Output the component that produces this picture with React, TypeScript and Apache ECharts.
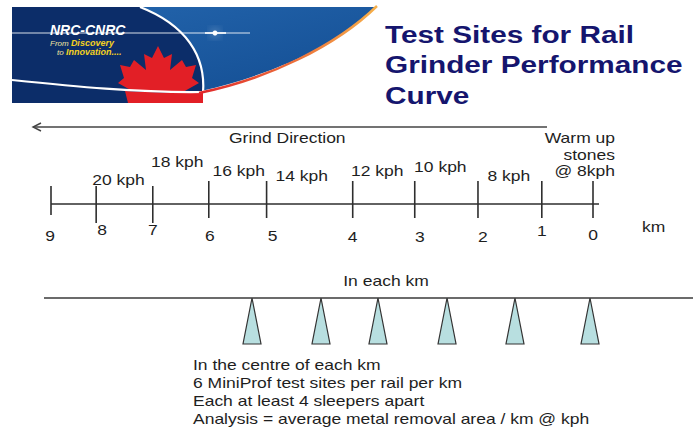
import React, { useEffect, useRef } from "react";
import * as echarts from "echarts";

// ---------------- data ----------------
const kmLabels = ["9", "8", "7", "6", "5", "4", "3", "2", "1", "0"];
// where each km marker sits along the drawn (schematic) line, in km units
const kmDrawnAt = [9, 8.25, 7.31, 6.38, 5.42, 3.99, 2.96, 1.91, 0.85, 0];
const speedLabels = ["20 kph", "18 kph", "16 kph", "14 kph", "12 kph", "10 kph", "8 kph"];
const warmUpLines = ["Warm up", "stones", "@ 8kph"];
// six MiniProf test sites, as a fraction of one km
const siteFractions = [0.3205, 0.4268, 0.5146, 0.621, 0.7257, 0.8413];
const titleLines = ["Test Sites for Rail", "Grinder Performance", "Curve"];
const noteLines = [
  "In the centre of each km",
  "6 MiniProf test sites per rail per km",
  "Each at least 4 sleepers apart",
  "Analysis = average metal removal area / km @ kph",
];
const unitLabel = "km";
const directionLabel = "Grind Direction";
const sectionLabel = "In each km";

// ---------------- layout / style ----------------
const FONT = '"Liberation Sans", Arial, sans-serif';
const SX = 1.25;
const INK = "#1e1e1e";
const LINE = "#2e2e2e";
const RAIL_Y = 204;
const TICK_TOP = [186, 186, 186, 181, 181, 181, 181, 181, 181, 181];
const TICK_BOTTOM = [215, 223, 223, 218, 218, 218, 218, 218, 218, 218];
const KM_LABEL_DX = [-1, 6, 0, 1, 6, 0, 5, 5, 0, 0];
const KM_LABEL_Y = [236, 230, 230, 236, 236, 237, 237, 237, 231, 235];
const SPEED_DX = [-6, -3.5, 1, -8, -6.5, -6, -1];
const SPEED_Y = [180, 162, 171, 176, 171, 167, 176];
const WARM_Y = [138, 155, 171];
const TRACK_Y = 298;
const SITE_H = 46;
const SITE_HALF = 9;

const NAVY = "#0c2d69";
const RED = "#e21f26";

echarts.graphic.registerShape(
  "nrcSky",
  echarts.graphic.extendPath("M12,7 L376,7 C338,45 272,75 201,91 L12,93 Z", {})
);
echarts.graphic.registerShape(
  "nrcNavy",
  echarts.graphic.extendPath("M12,7 L140,7 C186,25 206,56 203,93 L12,95 Z", {})
);
echarts.graphic.registerShape(
  "nrcBand",
  echarts.graphic.extendPath("M12,80 C70,86 140,93 203,92 L203,103 C140,103 70,103 12,103 Z", {})
);
echarts.graphic.registerShape(
  "nrcRed",
  echarts.graphic.extendPath("M125,91 C160,93 185,93 203,92 L203,103 L128,103 Z", {})
);

const leafPoints = [
  [158, 46], [164, 58], [172, 54], [170, 70], [182, 60], [186, 67], [196, 65],
  [192, 78], [199, 83], [183, 92], [185, 99], [162, 96], [161, 103], [155, 103],
  [154, 96], [132, 99], [134, 92], [118, 83], [124, 78], [120, 65], [130, 67],
  [134, 60], [146, 70], [144, 54], [152, 58],
];

function bannerGraphics(): any[] {
  return [
    {
      type: "nrcSky",
      x: 0,
      y: 0,
      style: {
        fill: {
          type: "linear", x: 0, y: 0, x2: 1, y2: 1,
          colorStops: [
            { offset: 0, color: "#2466ae" },
            { offset: 1, color: "#134d92" },
          ],
        },
      },
    },
    { type: "nrcNavy", x: 0, y: 0, style: { fill: NAVY } },
    { type: "polygon", shape: { points: leafPoints }, style: { fill: RED } },
    { type: "nrcBand", x: 0, y: 0, style: { fill: NAVY } },
    { type: "nrcRed", x: 0, y: 0, style: { fill: RED } },
    {
      type: "bezierCurve",
      shape: { x1: 12, y1: 80, cpx1: 70, cpy1: 86, cpx2: 140, cpy2: 93, x2: 203, y2: 92 },
      style: { stroke: "#ffffff", lineWidth: 2.2, fill: "none" },
    },
    {
      type: "bezierCurve",
      shape: { x1: 140, y1: 7, cpx1: 186, cpy1: 25, cpx2: 206, cpy2: 56, x2: 203, y2: 93 },
      style: { stroke: "#ffffff", lineWidth: 2.2, fill: "none" },
    },
    {
      type: "bezierCurve",
      shape: { x1: 199, y1: 93, cpx1: 268, cpy1: 79, cpx2: 336, cpy2: 46, x2: 377, y2: 6 },
      style: {
        fill: "none",
        lineWidth: 2.5,
        stroke: {
          type: "linear", x: 0, y: 0, x2: 1, y2: 0,
          colorStops: [
            { offset: 0, color: "#e0262a" },
            { offset: 1, color: "#f6b04a" },
          ],
        },
      },
    },
    {
      type: "line",
      shape: { x1: 12, y1: 33, x2: 250, y2: 33 },
      style: { stroke: "rgba(255,255,255,0.85)", lineWidth: 1 },
    },
    {
      type: "circle",
      shape: { cx: 215, cy: 33, r: 2.5 },
      style: { fill: "#ffffff", shadowBlur: 10, shadowColor: "#ffffff" },
    },
    {
      type: "line",
      shape: { x1: 205, y1: 33, x2: 226, y2: 33 },
      style: { stroke: "#ffffff", lineWidth: 1.6 },
    },
    {
      type: "text",
      x: 50,
      y: 30,
      style: {
        text: "NRC-CNRC",
        fill: "#ffffff",
        font: 'italic bold 14px ' + FONT,
        align: "left",
        verticalAlign: "middle",
      },
    },
    {
      type: "text",
      x: 50,
      y: 43,
      style: {
        text: "{a|From }{b|Discovery}",
        align: "left",
        verticalAlign: "middle",
        rich: {
          a: { fill: "#f1e6a0", font: 'italic 8px ' + FONT },
          b: { fill: "#f5d21e", font: 'italic bold 9px ' + FONT },
        },
      },
    },
    {
      type: "text",
      x: 57,
      y: 52,
      style: {
        text: "{a|to }{b|Innovation....}",
        align: "left",
        verticalAlign: "middle",
        rich: {
          a: { fill: "#f1e6a0", font: 'italic 8px ' + FONT },
          b: { fill: "#f5d21e", font: 'italic bold 9px ' + FONT },
        },
      },
    },
  ];
}

function textEl(text: string, x: number, y: number, opts: any = {}) {
  return {
    type: "text",
    x,
    y,
    scaleX: opts.scaleX ?? SX,
    style: {
      text,
      fill: opts.fill ?? INK,
      font: opts.font ?? "14px " + FONT,
      align: opts.align ?? "left",
      verticalAlign: "middle",
    },
  };
}

function buildOption(): any {
  const graphics: any[] = [
    ...bannerGraphics(),
    ...titleLines.map((t, i) =>
      textEl(t, 385, 35 + i * 30.5, { fill: "#15156e", font: "bold 24px " + FONT, scaleX: 1.24 })
    ),
    {
      type: "line",
      shape: { x1: 33, y1: 127, x2: 547, y2: 127 },
      style: { stroke: "#444", lineWidth: 1.4 },
    },
    {
      type: "polyline",
      shape: { points: [[41, 123], [33, 127], [41, 131]] },
      style: { stroke: "#444", lineWidth: 1.4, fill: "none" },
    },
    textEl(directionLabel, 229, 138),
    textEl(unitLabel, 642, 227),
    textEl(sectionLabel, 386, 281, { align: "center" }),
    ...noteLines.map((t, i) => textEl(t, 193, 365 + i * 17.9)),
  ];

  return {
    animation: false,
    backgroundColor: "#ffffff",
    grid: [
      { left: 51, right: 100, top: 0, bottom: 0 },
      { left: 44, right: 0, top: 0, bottom: 0 },
    ],
    xAxis: [
      { gridIndex: 0, type: "value", min: 0, max: 9, inverse: true, show: false },
      { gridIndex: 1, type: "value", min: 0, max: 1, show: false },
    ],
    yAxis: [
      { gridIndex: 0, type: "value", min: 0, max: 428, inverse: true, show: false },
      { gridIndex: 1, type: "value", min: 0, max: 428, inverse: true, show: false },
    ],
    series: [
      {
        type: "custom",
        name: "rail",
        xAxisIndex: 0,
        yAxisIndex: 0,
        data: [[kmDrawnAt[0], kmDrawnAt[kmDrawnAt.length - 1]]],
        renderItem: (_p: any, api: any) => {
          const a = api.coord([api.value(0), 0])[0];
          const b = api.coord([api.value(1), 0])[0];
          return {
            type: "line",
            shape: { x1: a, y1: RAIL_Y, x2: b + 6, y2: RAIL_Y },
            style: { stroke: LINE, lineWidth: 1.6 },
          };
        },
      },
      {
        type: "custom",
        name: "km markers",
        xAxisIndex: 0,
        yAxisIndex: 0,
        data: kmDrawnAt.map((v) => [v, 0]),
        renderItem: (p: any, api: any) => {
          const i = p.dataIndex;
          const x = api.coord([api.value(0), 0])[0];
          return {
            type: "group",
            children: [
              {
                type: "line",
                shape: { x1: x, y1: TICK_TOP[i], x2: x, y2: TICK_BOTTOM[i] },
                style: { stroke: LINE, lineWidth: 1.6 },
              },
              textEl(kmLabels[i], x + KM_LABEL_DX[i], KM_LABEL_Y[i], { align: "center" }),
            ],
          };
        },
      },
      {
        type: "custom",
        name: "speeds",
        xAxisIndex: 0,
        yAxisIndex: 0,
        data: speedLabels.map((_, i) => [kmDrawnAt[i + 1], kmDrawnAt[i + 2]]),
        renderItem: (p: any, api: any) => {
          const i = p.dataIndex;
          const a = api.coord([api.value(0), 0])[0];
          const b = api.coord([api.value(1), 0])[0];
          return textEl(speedLabels[i], (a + b) / 2 + SPEED_DX[i], SPEED_Y[i], { align: "center" });
        },
      },
      {
        type: "custom",
        name: "warm up",
        xAxisIndex: 0,
        yAxisIndex: 0,
        data: [[kmDrawnAt[8], kmDrawnAt[9]]],
        renderItem: (_p: any, api: any) => {
          const b = api.coord([api.value(1), 0])[0];
          return {
            type: "group",
            children: warmUpLines.map((t, j) => textEl(t, b + 22, WARM_Y[j], { align: "right" })),
          };
        },
      },
      {
        type: "custom",
        name: "track",
        xAxisIndex: 1,
        yAxisIndex: 1,
        data: [[0, 1]],
        renderItem: (_p: any, api: any) => {
          const a = api.coord([api.value(0), 0])[0];
          const b = api.coord([api.value(1), 0])[0];
          return {
            type: "line",
            shape: { x1: a, y1: TRACK_Y, x2: b, y2: TRACK_Y },
            style: { stroke: "#3a3a3a", lineWidth: 1.6 },
          };
        },
      },
      {
        type: "custom",
        name: "test sites",
        xAxisIndex: 1,
        yAxisIndex: 1,
        data: siteFractions.map((v) => [v, 0]),
        renderItem: (_p: any, api: any) => {
          const x = api.coord([api.value(0), 0])[0];
          return {
            type: "polygon",
            shape: {
              points: [
                [x, TRACK_Y],
                [x - SITE_HALF, TRACK_Y + SITE_H],
                [x + SITE_HALF, TRACK_Y + SITE_H],
              ],
            },
            style: { fill: "#b8dfe0", stroke: "#333", lineWidth: 1.2 },
          };
        },
      },
    ],
    graphic: graphics,
  };
}

export default function App() {
  const ref = useRef<HTMLDivElement>(null);
  useEffect(() => {
    if (!ref.current) return;
    const chart = echarts.init(ref.current, undefined, { renderer: "svg" });
    chart.setOption(buildOption());
    return () => chart.dispose();
  }, []);
  return (
    <div
      ref={ref}
      style={{ position: "fixed", left: 0, top: 0, width: 693, height: 428, background: "#fff" }}
    />
  );
}
